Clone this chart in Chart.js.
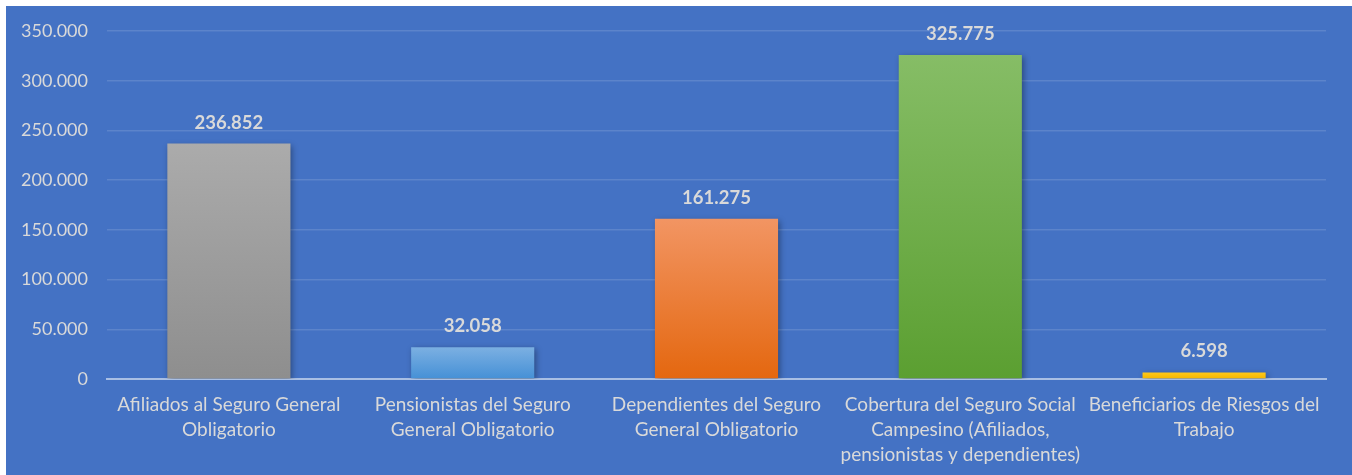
<!DOCTYPE html>
<html>
<head>
<meta charset="utf-8">
<script src="https://cdn.jsdelivr.net/npm/chart.js@4"></script>
<style>
  html, body { margin: 0; padding: 0; background: #ffffff; }
  #wrap { position: absolute; left: 6px; top: 6px; width: 1346px; height: 469px; background: #4472c4; }
</style>
</head>
<body>
<div id="wrap"><canvas id="chart" width="1346" height="469"></canvas></div>
<script>
// categories (already wrapped into lines like the original)
const categories = [
    ['Afiliados al Seguro General', 'Obligatorio'],
    ['Pensionistas del Seguro', 'General Obligatorio'],
    ['Dependientes del Seguro', 'General Obligatorio'],
    ['Cobertura del Seguro Social', 'Campesino (Afiliados,', 'pensionistas y dependientes)'],
    ['Beneficiarios de Riesgos del', 'Trabajo']
];
const values = [236852, 32058, 161275, 325775, 6598];
// top / bottom colour of each bar's gradient
const topColors = ['#ababab', '#7cb0e2', '#f29563', '#86bd66', '#ffc81a'];
const bottomColors = ['#8e8e8e', '#4590d6', '#e4670f', '#5b9f31', '#f2b600'];
const yMax = 350000;
const yStep = 50000;

const textColor = '#d9d9d9';
const fontFamily = 'Lato, "Open Sans", sans-serif';

const fmt = v => v.toLocaleString('de-DE');

const barGradient = (context) => {
    const chart = context.chart;
    const i = context.dataIndex;
    const yScale = chart.scales.y;
    if (!chart.chartArea || !yScale) return topColors[i];
    const y0 = yScale.getPixelForValue(values[i]);
    const y1 = yScale.getPixelForValue(0);
    if (!isFinite(y0) || !isFinite(y1) || y0 === y1) return topColors[i];
    const g = chart.ctx.createLinearGradient(0, y0, 0, y1);
    g.addColorStop(0, topColors[i]);
    g.addColorStop(1, bottomColors[i]);
    return g;
};

// soft shadow to the bars, like the office chart
const shadowPlugin = {
    id: 'barShadow',
    beforeDatasetsDraw(chart) {
        const ctx = chart.ctx;
        ctx.save();
        ctx.shadowColor = 'rgba(0, 0, 0, 0.35)';
        ctx.shadowBlur = 6;
        ctx.shadowOffsetX = 2;
        ctx.shadowOffsetY = 2;
    },
    afterDatasetsDraw(chart) {
        chart.ctx.restore();
    }
};

// value labels above the bars
const valueLabels = {
    id: 'valueLabels',
    afterDraw(chart) {
        const ctx = chart.ctx;
        const meta = chart.getDatasetMeta(0);
        ctx.save();
        ctx.fillStyle = textColor;
        ctx.font = 'bold 18.5px ' + fontFamily;
        ctx.textAlign = 'center';
        ctx.textBaseline = 'alphabetic';
        meta.data.forEach((bar, i) => {
            ctx.fillText(fmt(values[i]), bar.x, bar.y - 15);
        });
        ctx.restore();
    }
};

new Chart(document.getElementById('chart'), {
    type: 'bar',
    data: {
        labels: categories,
        datasets: [{
            data: values,
            backgroundColor: barGradient,
            borderWidth: 0,
            barPercentage: 0.505,
            categoryPercentage: 1.0
        }]
    },
    options: {
        responsive: false,
        animation: false,
        layout: { padding: { top: 25, right: 26, left: 0, bottom: 0 } },
        scales: {
            x: {
                z: 1,
                grid: { display: false },
                border: { display: true, color: '#a9bfe4', width: 2 },
                ticks: {
                    color: textColor,
                    font: { family: fontFamily, size: 19, lineHeight: 1.3 },
                    padding: 6,
                    maxRotation: 0,
                    autoSkip: false
                },
                afterFit(scale) { scale.height = 96; }
            },
            y: {
                min: 0,
                max: yMax,
                grid: {
                    color: ctx => ctx.tick && ctx.tick.value === 0 ? 'rgba(0,0,0,0)' : 'rgba(255,255,255,0.13)',
                    lineWidth: 1.5,
                    drawTicks: false
                },
                border: { display: false },
                ticks: {
                    stepSize: yStep,
                    color: textColor,
                    font: { family: fontFamily, size: 18 },
                    padding: 19,
                    callback: v => fmt(v)
                },
                afterFit(scale) {
                    scale.width = 101;
                    scale.paddingTop = 0;
                    scale.paddingBottom = 0;
                }
            }
        },
        plugins: {
            legend: { display: false },
            tooltip: { enabled: false }
        }
    },
    plugins: [shadowPlugin, valueLabels]
});
</script>
</body>
</html>
